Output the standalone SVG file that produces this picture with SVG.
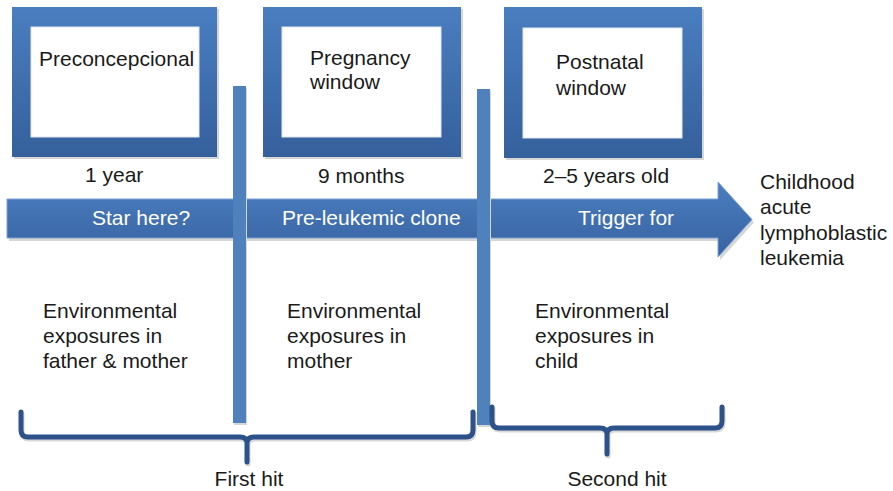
<svg xmlns="http://www.w3.org/2000/svg" width="893" height="491" viewBox="0 0 893 491">
<defs>
<linearGradient id="boxg" x1="0" y1="0" x2="0" y2="1">
<stop offset="0" stop-color="#4a7ec0"/>
<stop offset="1" stop-color="#35609c"/>
</linearGradient>
<linearGradient id="arrg" x1="0" y1="0" x2="0" y2="1">
<stop offset="0" stop-color="#4a7ec0"/>
<stop offset="1" stop-color="#3862a0"/>
</linearGradient>
</defs>
<style>
text{font-family:"Liberation Sans",Arial,sans-serif;font-size:21px;fill:#1a1a1a}
.w{fill:#ffffff}
.frame{fill:url(#boxg)}
.inner{fill:#ffffff;stroke:#dfe6f0;stroke-width:1}
.shadow{fill:#d6d6d6}
.bar{fill:#4f81bd}
.brace{fill:none;stroke:#2d5189;stroke-width:5;stroke-linecap:round;stroke-linejoin:round}
.braceSh{fill:none;stroke:#d8d8d8;stroke-width:5;stroke-linecap:round;stroke-linejoin:round}
</style>
<rect width="893" height="491" fill="#ffffff"/>

<g id="arrow">
<path d="M9,202 H720 V185 L754,222.5 L720,260 V241 H9 Z" class="shadow"/>
<path d="M7,199 H718 V182 L752,219.5 L718,257 V238 H7 Z" fill="url(#arrg)" stroke="#7da3d4" stroke-width="1"/>
<text class="w" x="92" y="225">Star here?</text>
<text class="w" x="282" y="225">Pre-leukemic clone</text>
<text class="w" x="578" y="225">Trigger for</text>
</g>

<g id="preconcepcional">
<rect x="14" y="9" width="205" height="150" class="shadow"/>
<rect x="12" y="7" width="205" height="150" class="frame"/>
<rect x="31" y="27" width="168" height="110" class="inner"/>
<text x="39" y="66">Preconcepcional</text>
<text x="85" y="182">1 year</text>
</g>

<g id="pregnancy">
<rect x="265" y="9" width="198" height="150" class="shadow"/>
<rect x="263" y="7" width="198" height="150" class="frame"/>
<rect x="282" y="27" width="159" height="110" class="inner"/>
<text x="310" y="65">Pregnancy</text>
<text x="310" y="89">window</text>
<text x="318" y="183">9 months</text>
</g>

<g id="postnatal">
<rect x="506" y="9" width="198" height="151" class="shadow"/>
<rect x="504" y="7" width="198" height="151" class="frame"/>
<rect x="523" y="28" width="159" height="110" class="inner"/>
<text x="556" y="69">Postnatal</text>
<text x="556" y="95">window</text>
<text x="543" y="183">2–5 years old</text>
</g>

<g id="outcome">
<text x="760" y="189">Childhood</text>
<text x="760" y="214">acute</text>
<text x="760" y="240">lymphoblastic</text>
<text x="760" y="265">leukemia</text>
</g>

<g id="exposures-parents">
<text x="43" y="318">Environmental</text>
<text x="43" y="343">exposures in</text>
<text x="43" y="368">father &amp; mother</text>
</g>
<g id="exposures-mother">
<text x="287" y="318">Environmental</text>
<text x="287" y="343">exposures in</text>
<text x="287" y="368">mother</text>
</g>
<g id="exposures-child">
<text x="535" y="318">Environmental</text>
<text x="535" y="343">exposures in</text>
<text x="535" y="368">child</text>
</g>

<g id="connectors">
<rect x="234" y="88" width="13" height="337" class="shadow"/>
<rect x="233" y="86" width="13" height="337" class="bar"/>
<rect x="478" y="91" width="13" height="336" class="shadow"/>
<rect x="477" y="89" width="13" height="336" class="bar"/>
<path class="braceSh" d="M22,414 V432 Q22,439 29,439 H241 Q248,439 248,445 V464 M248,445 Q248,439 255,439 H467 Q474,439 474,432 V414"/>
<path class="brace" d="M21,412 V430 Q21,437 28,437 H240 Q247,437 247,443 V462 M247,443 Q247,437 254,437 H466 Q473,437 473,430 V412"/>
<path class="braceSh" d="M493,409 V423 Q493,430 500,430 H601 Q608,430 608,436 V456 M608,436 Q608,430 615,430 H716 Q723,430 723,423 V409"/>
<path class="brace" d="M492,407 V421 Q492,428 499,428 H600 Q607,428 607,434 V454 M607,434 Q607,428 614,428 H715 Q722,428 722,421 V407"/>
</g>

<g id="hits">
<text x="249" y="486" text-anchor="middle">First hit</text>
<text x="617" y="486" text-anchor="middle">Second hit</text>
</g>
</svg>
